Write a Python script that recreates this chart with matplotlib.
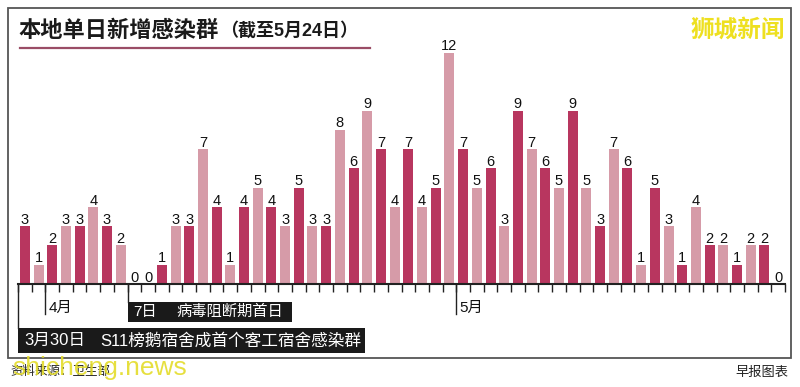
import matplotlib
matplotlib.use('Agg')
import matplotlib.pyplot as plt
import matplotlib.transforms as mtransforms
from matplotlib.patches import Rectangle
import numpy as np

plt.rcParams['font.family'] = ['Liberation Sans', 'Noto Sans CJK SC']

# daily new local clusters, 3月30日 .. 5月24日
values = [3, 1, 2, 3, 3, 4, 3, 2, 0, 0, 1, 3, 3, 7, 4, 1, 4, 5, 4, 3,
          5, 3, 3, 8, 6, 9, 7, 4, 7, 4, 5, 12, 7, 5, 6, 3, 9, 7, 6, 5,
          9, 5, 3, 7, 6, 1, 5, 3, 1, 4, 2, 2, 1, 2, 2, 0]
title_main = '本地单日新增感染群'
title_sub = '（截至5月24日）'
month_marks = [(2, '4月'), (32, '5月')]      # index of first day of month
event1 = (8, '7日', '病毒阻断期首日')
event0 = (0, '3月30日', 'S11榜鹅宿舍成首个客工宿舍感染群')

dark = '#b8365f'
light = '#d69ba8'

W, H = 800, 387
def fy(py):
    return 1 - py / H

fig = plt.figure(figsize=(W / 100, H / 100), dpi=100)
fig.patch.set_facecolor('white')

ax = fig.add_axes([18 / W, fy(284), 767 / W, (284 - 52.7) / H])
x = np.arange(len(values))
colors = [dark if i % 2 == 0 else light for i in x]
ax.bar(x, values, width=0.73, color=colors)
for i, v in zip(x, values):
    ax.text(i, v + 0.12, str(v), ha='center', va='baseline', fontsize=10.5,
            color='#111111', clip_on=False)

ax.set_xlim(-0.5, len(values) - 0.5)
ax.set_ylim(0, 12)
for s in ['top', 'left', 'right']:
    ax.spines[s].set_visible(False)
ax.spines['bottom'].set_linewidth(1.5)
ax.spines['bottom'].set_color('#222222')
ax.set_xticks(np.arange(len(values) + 1) - 0.5)
ax.tick_params(axis='x', direction='out', length=6, width=1, color='#222222',
               labelbottom=False)
ax.set_yticks([])
ax.patch.set_alpha(0)

tr = mtransforms.blended_transform_factory(ax.transData, fig.transFigure)

# month markers
for idx, lab in month_marks:
    xb = idx - 0.5
    fig.add_artist(plt.Line2D([xb, xb], [fy(284), fy(314)], transform=tr,
                              color='#222222', lw=1))
    ax.annotate(lab, xy=(xb, 0), xycoords='data', xytext=(3, -24),
                textcoords='offset pixels', fontsize=11, va='center',
                ha='left', color='#111111', annotation_clip=False)

# event boxes
def event_box(idx, date, text, top, bottom, right_px, gap_px, fs):
    xb = idx - 0.5
    fig.add_artist(plt.Line2D([xb, xb], [fy(284), fy(top)], transform=tr,
                              color='#222222', lw=1))
    unit = 767 / len(values)
    width = (right_px - (18 + (xb + 0.5) * unit)) / unit
    fig.add_artist(Rectangle((xb, fy(bottom)), width, (bottom - top) / H,
                             transform=tr, facecolor='#1a1a1a',
                             edgecolor='none'))
    ymid = fy((top + bottom) / 2)
    fig.text(xb + 6 / unit, ymid, date, transform=tr, color='white',
             fontsize=fs, va='center', ha='left')
    fig.text(xb + gap_px / unit, ymid, text, transform=tr, color='white',
             fontsize=fs, va='center', ha='left')

event_box(event1[0], event1[1], event1[2], 302, 322, 292, 49, 11)
event_box(event0[0], event0[1], event0[2], 328, 353, 365, 82, 12)

# title
fig.text(18 / W, fy(31), title_main, fontsize=16, fontweight='bold',
         color='#1a1a1a', va='center', ha='left')
fig.text(220 / W, fy(31), title_sub, fontsize=13, fontweight='bold',
         color='#1a1a1a', va='center', ha='left')
fig.add_artist(plt.Line2D([20 / W, 370 / W], [fy(48), fy(48)],
                          color='#9a4d66', lw=1.6))

# frame
fig.add_artist(Rectangle((8 / W, fy(358)), (791 - 8) / W, (358 - 8) / H,
                         facecolor='none', edgecolor='#555555', lw=1.3))

# source / credit
fig.text(10 / W, fy(372), '资料来源：卫生部', fontsize=9, color='#222222',
         va='center', ha='left')
fig.text(788 / W, fy(373), '早报图表', fontsize=9.5, color='#222222',
         va='center', ha='right')

# watermarks
fig.text(785 / W, fy(30), '狮城新闻', fontsize=17, color='#eee020',
         va='center', ha='right', fontweight='bold')
fig.text(12 / W, fy(368), 'shicheng.news', fontsize=19, color='#e4dc2a',
         va='center', ha='left', alpha=0.9)

fig.savefig('out.png', dpi=100, facecolor='white')
